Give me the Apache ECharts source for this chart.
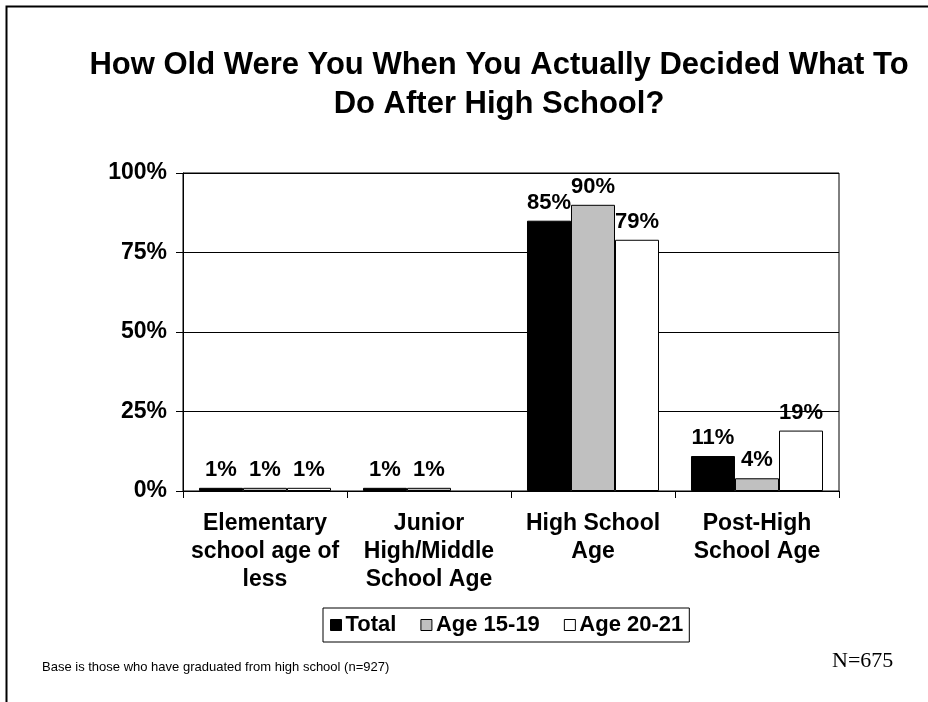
<!DOCTYPE html>
<html><head><meta charset="utf-8">
<script src="https://cdn.jsdelivr.net/npm/echarts@6/dist/echarts.min.js"></script>
<style>html,body{margin:0;padding:0;background:#fff}#c{width:928px;height:702px}</style>
</head><body><div id="c"></div>
<script>
const categories = ['Elementary\nschool age of\nless', 'Junior\nHigh/Middle\nSchool Age', 'High School\nAge', 'Post-High\nSchool Age'];
const seriesNames = ['Total', 'Age 15-19', 'Age 20-21'];
const totalValues = [1, 1, 85, 11];
const age1519Values = [1, 1, 90, 4];
const age2021Values = [1, null, 79, 19];
const yTicks = [0, 25, 50, 75, 100];
const colors = ['#000000', '#c0c0c0', '#ffffff'];

const F = 'Liberation Sans, Arial, sans-serif';
const chart = echarts.init(document.getElementById('c'));
const allValues = [totalValues, age1519Values, age2021Values];
chart.setOption({
  animation: false,
  backgroundColor: '#fff',
  title: {
    text: 'How Old Were You When You Actually Decided What To\nDo After High School?',
    left: 494, top: 41, textAlign: 'center',
    textStyle: { fontFamily: F, fontWeight: 'bold', fontSize: 31, lineHeight: 39, color: '#000' }
  },
  grid: { left: 183, top: 173, width: 656, height: 318, show: true, borderColor: '#000', borderWidth: 1 },
  legend: {
    data: seriesNames.map((n, i) => ({ name: n, icon: 'rect', itemStyle: { color: colors[i], borderColor: '#000', borderWidth: 1 } })),
    left: 323, top: 608,
    itemWidth: 11, itemHeight: 11, itemGap: 24,
    padding: [6, 6, 6, 7],
    borderColor: '#000', borderWidth: 1,
    textStyle: { fontFamily: F, fontWeight: 'bold', fontSize: 22, color: '#000', padding: [0, 0, 0, -1] }
  },
  xAxis: {
    type: 'category', data: categories,
    axisLine: { lineStyle: { color: '#000', width: 1 } },
    axisTick: { show: true, length: 7, lineStyle: { color: '#000' } },
    axisLabel: { fontFamily: F, fontWeight: 'bold', fontSize: 23, color: '#000', lineHeight: 28, margin: 19, interval: 0 }
  },
  yAxis: {
    type: 'value', min: 0, max: 100, interval: 25,
    axisLine: { show: true, lineStyle: { color: '#000' } },
    axisTick: { show: true, length: 7, lineStyle: { color: '#000' } },
    splitLine: { lineStyle: { color: '#000', width: 1 } },
    axisLabel: { fontFamily: F, fontWeight: 'bold', fontSize: 23, color: '#000', margin: 16,
      formatter: v => yTicks.includes(v) ? v + '%' : '' }
  },
  series: seriesNames.map((n, i) => ({
    name: n, type: 'bar', data: allValues[i],
    barGap: '0%', barCategoryGap: '19.5%',
    itemStyle: { color: colors[i], borderColor: '#000', borderWidth: 1 },
    label: { show: true, position: 'top', distance: 7, formatter: p => p.value + '%',
      fontFamily: F, fontWeight: 'bold', fontSize: 22, color: '#000' }
  })),
  graphic: [
    { type: 'polyline', shape: { points: [[6.5, 702], [6.5, 6.5], [928, 6.5]] }, style: { stroke: '#000', lineWidth: 2, fill: null } },
    { type: 'text', left: 42, top: 661, style: { text: 'Base is those who have graduated from high school (n=927)', font: '13px Liberation Sans, Arial, sans-serif', fill: '#000' } },
    { type: 'text', left: 832, top: 650, style: { text: 'N=675', font: '22px Liberation Serif, Times New Roman, serif', fill: '#000' } }
  ]
});
</script></body></html>
